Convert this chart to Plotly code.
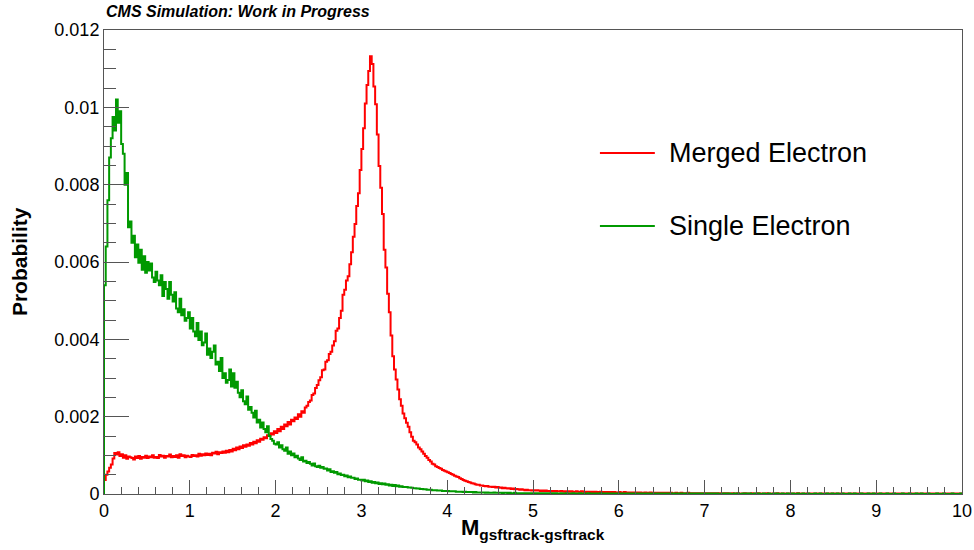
import numpy as np
import plotly.graph_objects as go

# Histogram binning (M from 0 to 10, bins of 0.02)
x_min, x_max, bin_width = 0.0, 10.0, 0.02

# Bin contents in units of 1e-5 (probability), 25 bins per row (0.5 in M)
merged_e5 = [
    36, 50, 58, 68, 76, 92, 106, 102, 108, 98, 103, 94, 100, 91, 97, 95, 93, 89, 97, 93, 98, 91, 96, 94, 99,
    93, 97, 95, 100, 94, 96, 93, 101, 97, 99, 94, 98, 97, 102, 95, 98, 96, 100, 94, 103, 98, 100, 95, 99, 97,
    96, 101, 98, 100, 97, 104, 99, 103, 100, 105, 101, 104, 100, 107, 105, 109, 103, 108, 106, 110, 107, 112, 108, 114, 110,
    117, 113, 120, 116, 123, 119, 126, 122, 128, 125, 132, 128, 135, 131, 139, 135, 143, 140, 147, 144, 152, 150, 157, 154, 162,
    158, 168, 162, 174, 168, 180, 175, 186, 180, 192, 188, 198, 194, 206, 200, 214, 210, 224, 228, 238, 242, 256, 260, 274, 282,
    294, 302, 320, 322, 342, 346, 362, 368, 384, 395, 422, 428, 455, 474, 515, 528, 552, 563, 594, 625, 665, 698, 745, 778, 838,
    892, 946, 1010, 1058, 1094, 1132, 1112, 1054, 1008, 930, 848, 792, 724, 632, 586, 518, 470, 410, 356, 322, 296, 270, 245, 228, 208,
    196, 184, 174, 160, 148, 138, 134, 128, 120, 116, 110, 104, 98, 94, 88, 84, 78, 76, 72, 70, 67, 65, 62, 60, 58,
    56, 54, 52, 50, 47, 45, 44, 41, 39, 36, 34, 33, 31, 30, 28, 27, 25, 24, 24, 22, 22, 21, 20, 21, 19,
    19, 18, 19, 17, 18, 16, 17, 15, 16, 15, 14, 15, 13, 14, 12, 13, 12, 11, 12, 11, 10, 11, 10, 10, 9,
    10, 9, 10, 9, 8, 9, 8, 9, 8, 8, 7, 8, 7, 8, 7, 7, 8, 7, 6, 7, 7, 6, 7, 6, 6,
    7, 6, 6, 7, 6, 5, 6, 6, 5, 6, 5, 6, 5, 5, 6, 5, 4, 5, 5, 4, 5, 4, 5, 4, 4,
    5, 4, 4, 5, 4, 4, 3, 4, 4, 3, 4, 3, 4, 3, 3, 4, 3, 3, 4, 3, 3, 2, 3, 3, 2,
    3, 3, 2, 3, 2, 3, 2, 2, 3, 2, 2, 3, 2, 2, 2, 3, 2, 2, 2, 2, 1, 2, 2, 2, 1,
    2, 1, 2, 2, 1, 2, 1, 2, 2, 1, 1, 2, 1, 2, 1, 1, 2, 1, 1, 2, 1, 1, 1, 2, 1,
    1, 1, 2, 1, 1, 1, 2, 1, 1, 1, 1, 2, 1, 1, 1, 1, 1, 2, 1, 1, 1, 1, 1, 1, 1,
    1, 1, 1, 1, 2, 1, 1, 1, 1, 1, 1, 1, 0, 1, 1, 1, 1, 1, 1, 0, 1, 1, 1, 1, 1,
    1, 0, 1, 1, 1, 1, 0, 1, 1, 1, 0, 1, 1, 1, 0, 1, 1, 1, 1, 0, 1, 1, 0, 1, 1,
    0, 1, 1, 1, 0, 1, 1, 0, 1, 1, 1, 0, 1, 1, 0, 1, 0, 1, 1, 1, 0, 1, 1, 0, 1,
    1, 0, 1, 1, 0, 1, 0, 1, 1, 0, 1, 0, 1, 0, 1, 1, 0, 1, 0, 1, 0, 1, 0, 1, 1,
]

single_e5 = [
    540, 640, 760, 870, 920, 975, 940, 1020, 960, 990, 905, 880, 800, 830, 690, 705, 650, 668, 612, 645, 598, 632, 580, 615, 572,
    600, 578, 596, 560, 548, 575, 552, 540, 566, 512, 548, 530, 505, 548, 515, 498, 522, 480, 470, 505, 462, 478, 448, 455, 470,
    428, 455, 420, 408, 442, 398, 420, 385, 392, 415, 360, 376, 352, 368, 384, 335, 342, 318, 352, 300, 312, 288, 295, 322, 278,
    312, 275, 290, 262, 250, 268, 240, 232, 252, 218, 225, 210, 198, 215, 185, 192, 172, 185, 168, 160, 175, 150, 142, 138, 130,
    128, 134, 120, 126, 116, 112, 120, 104, 110, 100, 105, 95, 99, 92, 88, 95, 84, 86, 80, 83, 78, 74, 79, 72, 70,
    73, 68, 70, 65, 66, 61, 64, 57, 59, 55, 57, 51, 53, 49, 50, 46, 48, 43, 45, 42, 42, 39, 40, 37, 37,
    35, 37, 33, 35, 31, 33, 29, 31, 28, 30, 26, 28, 25, 27, 24, 25, 22, 24, 21, 23, 20, 22, 19, 20, 18,
    18, 18, 17, 17, 16, 15, 15, 14, 14, 13, 13, 12, 12, 11, 11, 11, 10, 10, 10, 9, 9, 9, 8, 8, 8,
    8, 7, 7, 7, 7, 6, 6, 6, 6, 5, 6, 5, 5, 5, 5, 4, 5, 4, 4, 4, 4, 4, 3, 4, 3,
    3, 3, 4, 3, 3, 3, 3, 2, 3, 3, 2, 3, 2, 2, 3, 2, 2, 2, 2, 2, 2, 2, 1, 2, 2,
    2, 2, 1, 2, 2, 1, 2, 2, 1, 2, 1, 2, 1, 2, 1, 1, 2, 1, 1, 2, 1, 1, 1, 2, 1,
    1, 1, 2, 1, 1, 1, 1, 2, 1, 1, 1, 1, 1, 1, 2, 1, 1, 1, 1, 1, 1, 1, 1, 1, 1,
    1, 1, 1, 0, 1, 1, 1, 1, 1, 0, 1, 1, 1, 1, 0, 1, 1, 1, 0, 1, 1, 1, 0, 1, 1,
    1, 0, 1, 1, 0, 1, 1, 0, 1, 1, 0, 1, 0, 1, 1, 0, 1, 0, 1, 1, 0, 1, 0, 1, 0,
    1, 0, 1, 0, 1, 1, 0, 1, 0, 0, 1, 0, 1, 0, 1, 0, 0, 1, 0, 1, 0, 0, 1, 0, 1,
    0, 1, 0, 0, 1, 0, 1, 0, 0, 1, 0, 0, 1, 0, 0, 1, 0, 1, 0, 0, 1, 0, 0, 1, 0,
    0, 1, 0, 0, 1, 0, 0, 1, 0, 0, 1, 0, 0, 0, 1, 0, 0, 1, 0, 0, 0, 1, 0, 0, 1,
    0, 0, 1, 0, 0, 1, 0, 0, 0, 1, 0, 0, 1, 0, 0, 0, 1, 0, 0, 0, 1, 0, 0, 1, 0,
    0, 0, 1, 0, 0, 0, 1, 0, 0, 0, 1, 0, 0, 0, 0, 1, 0, 0, 0, 1, 0, 0, 0, 1, 0,
    0, 1, 0, 0, 0, 1, 0, 0, 0, 0, 1, 0, 0, 0, 1, 0, 0, 0, 0, 1, 0, 0, 0, 0, 1,
]

series_names = ["Merged Electron", "Single Electron"]
series_colors = ["#ff0000", "#009900"]

y_tickvals = [0, 0.002, 0.004, 0.006, 0.008, 0.010, 0.012]
y_ticktext = ["0", "0.002", "0.004", "0.006", "0.008", "0.01", "0.012"]
x_tickvals = [0, 1, 2, 3, 4, 5, 6, 7, 8, 9, 10]
x_ticktext = ["0", "1", "2", "3", "4", "5", "6", "7", "8", "9", "10"]

UNIT = 1e-5
n_bins = int(round((x_max - x_min) / bin_width))
edges = x_min + bin_width * np.arange(n_bins + 1)


def step_xy(values_e5):
    v = np.asarray(values_e5, dtype=float) * UNIT
    assert len(v) == n_bins, len(v)
    xs = np.concatenate([[x_min], edges])
    ys = np.concatenate([[0.0], v, [v[-1]]])
    return xs, ys


FONT = "Liberation Sans, Arial, Helvetica, sans-serif"
AX = "#555555"

fig = go.Figure()
for vals, name, col in zip([merged_e5, single_e5], series_names, series_colors):
    xs, ys = step_xy(vals)
    fig.add_trace(go.Scatter(x=xs, y=ys, mode="lines", name=name,
                             line=dict(color=col, width=2, shape="hv"),
                             showlegend=False))

fig.update_layout(
    width=974, height=550,
    margin=dict(l=104, r=12, t=30, b=56, autoexpand=False),
    paper_bgcolor="white", plot_bgcolor="white",
    font=dict(family=FONT, color="black"),
    xaxis=dict(range=[x_min, x_max], showgrid=False, zeroline=False, automargin=False,
               showline=True, linecolor=AX, linewidth=1, mirror=True,
               ticks="inside", ticklen=14, tickcolor=AX, tickwidth=1,
               tickvals=x_tickvals, ticktext=x_ticktext,
               tickfont=dict(size=18, family=FONT, color="black"),
               minor=dict(ticks="inside", ticklen=7, dtick=0.2, tick0=0,
                          tickcolor=AX, tickwidth=1, showgrid=False)),
    yaxis=dict(range=[0, 0.012], showgrid=False, zeroline=False, automargin=False,
               showline=True, linecolor=AX, linewidth=1, mirror=True,
               ticks="inside", ticklen=25, tickcolor=AX, tickwidth=1,
               tickvals=y_tickvals, ticktext=y_ticktext,
               tickfont=dict(size=18, family=FONT, color="black"),
               minor=dict(ticks="inside", ticklen=12, dtick=0.0005, tick0=0,
                          tickcolor=AX, tickwidth=1, showgrid=False)),
)

annotations = [
    dict(text="<b><i>CMS Simulation: Work in Progress</i></b>", xref="paper", yref="paper",
         x=0, y=1.039, xanchor="left", yanchor="middle", showarrow=False,
         font=dict(size=16, family=FONT, color="black")),
    dict(text="<b>Probability</b>", xref="paper", yref="paper",
         x=-0.099, y=0.5, xanchor="center", yanchor="middle", textangle=-90,
         showarrow=False, font=dict(size=21, family=FONT, color="black")),
    dict(text="<b>M<sub>gsftrack-gsftrack</sub></b>", xref="paper", yref="paper",
         x=0.5, y=-0.075, xanchor="center", yanchor="middle",
         showarrow=False, font=dict(size=22, family=FONT, color="black")),
]

# Legend drawn as lines + labels (ROOT TLegend look)
legend_y = [0.735, 0.5776]
shapes = []
for ly, name, col in zip(legend_y, series_names, series_colors):
    shapes.append(dict(type="line", xref="paper", yref="paper",
                       x0=0.578, x1=0.642, y0=ly, y1=ly,
                       line=dict(color=col, width=2)))
    annotations.append(dict(text=name, xref="paper", yref="paper",
                            x=0.656, y=ly, xanchor="left", yanchor="middle",
                            showarrow=False,
                            font=dict(size=27, family=FONT, color="black")))

fig.update_layout(annotations=annotations, shapes=shapes)
fig.write_html("out.html")
